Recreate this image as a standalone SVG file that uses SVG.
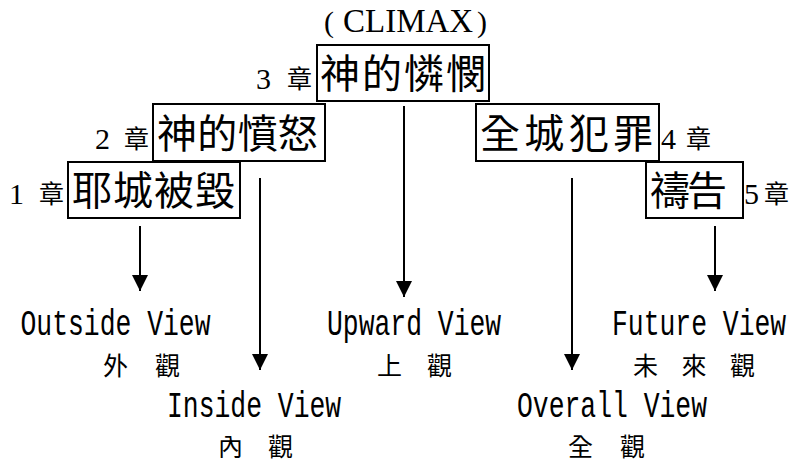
<svg xmlns="http://www.w3.org/2000/svg" width="798" height="463" viewBox="0 0 798 463">
<defs>
<marker id="ah" markerUnits="userSpaceOnUse" markerWidth="16" markerHeight="16" refX="16" refY="8" orient="auto" viewBox="0 0 16 16">
<path d="M0,0 L16,8 L0,16 z" fill="#000"/>
</marker>
</defs>
<style>
.box{fill:#fff;stroke:#000;stroke-width:2}
.big{font-family:"Noto Sans CJK TC","Noto Sans CJK SC",sans-serif;font-size:40px;fill:#000}
.cjk{font-family:"Noto Sans CJK TC","Noto Sans CJK SC",sans-serif;font-size:25px;fill:#000}
.dig{font-family:"Liberation Serif",serif;font-size:30px;fill:#000}
.lat{font-family:"Liberation Mono",monospace;font-size:26.4px;fill:#000}
.ttl{font-family:"Liberation Serif",serif;font-size:30px;fill:#000}
.con{stroke:#000;stroke-width:2;fill:none;marker-end:url(#ah)}
</style>
<rect width="798" height="463" fill="#fff"/>
<text class="ttl" y="32"><tspan x="324">(</tspan><tspan x="343" style="font-size:33px">CLIMAX</tspan><tspan x="477">)</tspan></text>
<g id="node-ch3">
<rect class="box" x="317" y="45" width="172" height="56"/>
<text class="big" x="320" y="88" textLength="166" lengthAdjust="spacing">神的憐憫</text>
<text class="dig" x="256" y="89">3</text>
<text class="cjk" x="287" y="88">章</text>
</g>
<g id="node-ch2">
<rect class="box" x="153" y="104" width="172" height="57"/>
<text class="big" x="157" y="148" textLength="161" lengthAdjust="spacing">神的憤怒</text>
<text class="dig" x="95" y="149">2</text>
<text class="cjk" x="124" y="148">章</text>
</g>
<g id="node-ch1">
<rect class="box" x="68" y="162" width="172" height="56"/>
<text class="big" x="72" y="205" textLength="163" lengthAdjust="spacing">耶城被毀</text>
<text class="dig" x="9" y="204">1</text>
<text class="cjk" x="39" y="203">章</text>
</g>
<g id="node-ch4">
<rect class="box" x="476" y="104" width="183" height="57"/>
<text class="big" x="480" y="148" textLength="173" lengthAdjust="spacing">全城犯罪</text>
<text class="dig" x="661" y="149">4</text>
<text class="cjk" x="686" y="148">章</text>
</g>
<g id="node-ch5">
<rect class="box" x="646" y="162" width="97" height="56"/>
<text class="big" x="650" y="205" textLength="77" lengthAdjust="spacing">禱告</text>
<text class="dig" x="744" y="204">5</text>
<text class="cjk" x="764" y="203">章</text>
</g>
<g id="connectors">
<line class="con" x1="140" y1="226" x2="140" y2="291"/>
<line class="con" x1="260" y1="178" x2="260" y2="370"/>
<line class="con" x1="404" y1="106" x2="404" y2="297"/>
<line class="con" x1="572" y1="178" x2="572" y2="370"/>
<line class="con" x1="715" y1="226" x2="715" y2="291"/>
</g>
<g id="label-outside">
<text class="lat" transform="translate(20.5,335) scale(1,1.38)">Outside View</text>
<text class="cjk" x="103" y="375" textLength="77" lengthAdjust="spacing">外 觀</text>
</g>
<g id="label-inside">
<text class="lat" transform="translate(167,417) scale(1,1.38)">Inside View</text>
<text class="cjk" x="218" y="456" textLength="75" lengthAdjust="spacing">內 觀</text>
</g>
<g id="label-upward">
<text class="lat" transform="translate(327,335) scale(1,1.38)">Upward View</text>
<text class="cjk" x="377" y="375" textLength="75" lengthAdjust="spacing">上 觀</text>
</g>
<g id="label-overall">
<text class="lat" transform="translate(517,417) scale(1,1.38)">Overall View</text>
<text class="cjk" x="568" y="456" textLength="77" lengthAdjust="spacing">全 觀</text>
</g>
<g id="label-future">
<text class="lat" transform="translate(612,335) scale(1,1.38)">Future View</text>
<text class="cjk" x="633" y="375" textLength="122" lengthAdjust="spacing">未 來 觀</text>
</g>
</svg>
